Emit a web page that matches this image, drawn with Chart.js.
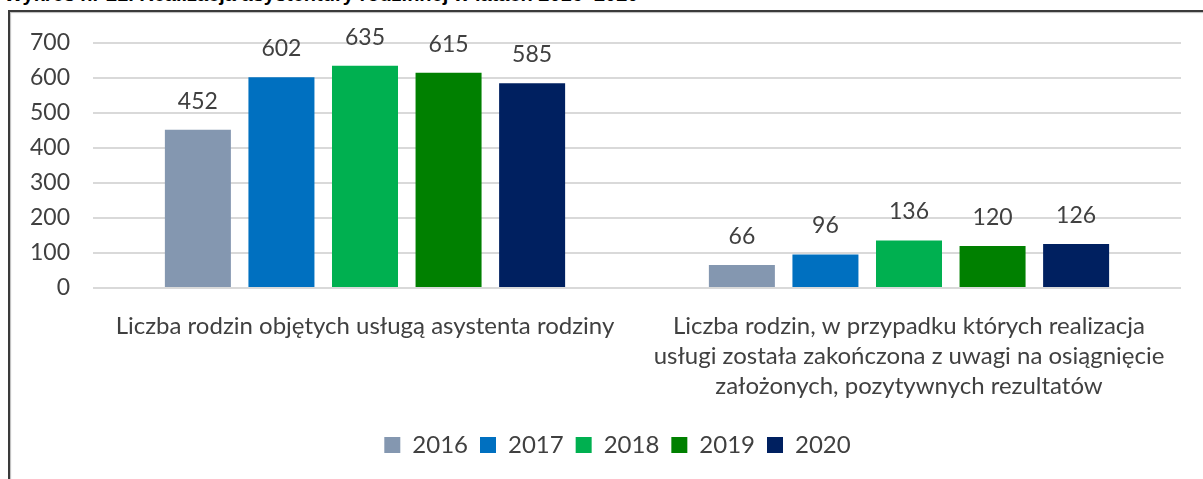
<!DOCTYPE html>
<html>
<head>
<meta charset="utf-8">
<script src="https://cdn.jsdelivr.net/npm/chart.js@4/dist/chart.umd.min.js"></script>
<style>
  html, body { margin: 0; padding: 0; background: #fff; overflow: hidden; }
  #title { position: absolute; left: 4px; top: -17px; font: bold 20px "Liberation Sans", sans-serif; color: #000; white-space: nowrap; }
  #frame { position: absolute; left: 8px; top: 10px; width: 1300px; height: 600px; border-top: 2px solid #3a3a3a; border-left: 2px solid #3a3a3a; box-shadow: inset 1px 1px 1px #bbb; }
  #wrap { position: absolute; left: 0; top: 0; width: 1203px; height: 479px; }
</style>
</head>
<body>
<div id="title">Wykres nr 21. Realizacja asystentury rodzinnej w latach 2016–2020</div>
<div id="frame"></div>
<div id="wrap"><canvas id="myChart"></canvas></div>
<script>
const categories = [
  ["Liczba rodzin objętych usługą asystenta rodziny"],
  ["Liczba rodzin, w przypadku których realizacja", "usługi została zakończona z uwagi na osiągnięcie", "założonych, pozytywnych rezultatów"]
];
const years = ["2016", "2017", "2018", "2019", "2020"];
const v2016 = [452, 66];
const v2017 = [602, 96];
const v2018 = [635, 136];
const v2019 = [615, 120];
const v2020 = [585, 126];
const yTicks = [0, 100, 200, 300, 400, 500, 600, 700];

const colors = ["#8497B0", "#0070C0", "#00B050", "#008000", "#002060"];
const series = [v2016, v2017, v2018, v2019, v2020];
const textColor = "#404040";
const fontFamily = "Lato, 'Noto Sans', sans-serif";

// etykiety z wartościami nad słupkami
const valueLabels = {
  id: "valueLabels",
  afterDatasetsDraw(chart) {
    const ctx = chart.ctx;
    ctx.save();
    ctx.font = "23px " + fontFamily;
    ctx.fillStyle = textColor;
    ctx.textAlign = "center";
    ctx.textBaseline = "alphabetic";
    chart.data.datasets.forEach((ds, i) => {
      chart.getDatasetMeta(i).data.forEach((bar, j) => {
        ctx.fillText(ds.data[j], bar.x, bar.y - 21);
      });
    });
    ctx.restore();
  }
};

// przesunięcie legendy w prawo jak w oryginale
const legendShift = {
  id: "legendShift",
  afterLayout(chart) {
    chart.legend.left += 27;
    chart.legend.right += 27;
  }
};

const ctx = document.getElementById("myChart").getContext("2d");
const chart = new Chart(ctx, {
  type: "bar",
  data: {
    labels: categories,
    datasets: years.map((y, i) => ({
      label: y,
      data: series[i],
      backgroundColor: colors[i],
      borderWidth: 0,
      categoryPercentage: 0.768,
      barPercentage: 0.79
    }))
  },
  options: {
    responsive: true,
    maintainAspectRatio: false,
    animation: false,
    layout: { padding: { left: 0, right: 22, top: 43, bottom: 12 } },
    plugins: {
      tooltip: { enabled: false },
      legend: {
        position: "bottom",
        labels: {
          color: textColor,
          font: { family: fontFamily, size: 24 },
          boxWidth: 16,
          boxHeight: 16,
          padding: 12
        }
      }
    },
    scales: {
      x: {
        grid: { display: false, drawTicks: false },
        border: { display: false },
        ticks: {
          color: textColor,
          font: { family: fontFamily, size: 24, lineHeight: 1.23 },
          padding: 24,
          maxRotation: 0,
          autoSkip: false
        },
        afterFit(scale) { scale.height = 133; }
      },
      y: {
        min: 0,
        max: 700,
        afterBuildTicks(scale) { scale.ticks = yTicks.map(v => ({ value: v })); },
        grid: { color: "#D9D9D9", lineWidth: 2, drawTicks: false },
        border: { display: false },
        ticks: {
          color: textColor,
          font: { family: fontFamily, size: 23 },
          padding: 23
        },
        afterFit(scale) { scale.width = 93; }
      }
    }
  },
  plugins: [valueLabels, legendShift]
});
</script>
</body>
</html>
